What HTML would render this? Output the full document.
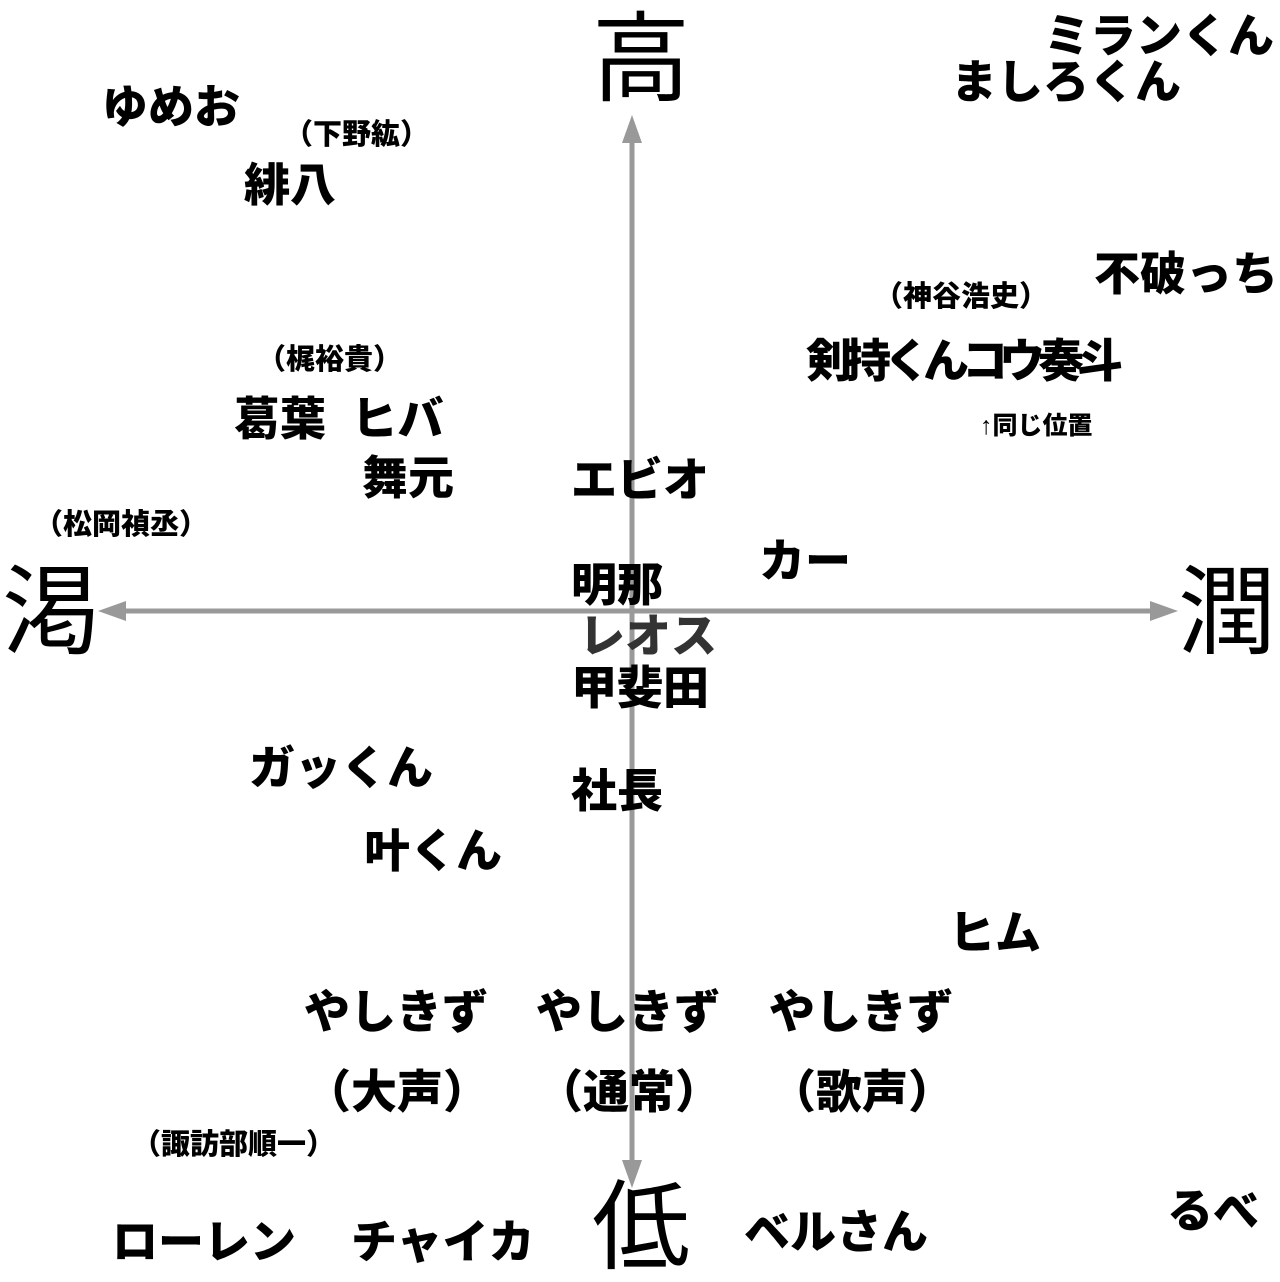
<!DOCTYPE html>
<html><head><meta charset="utf-8"><style>
html,body{margin:0;padding:0;background:#fff;}
body{width:1280px;height:1280px;position:relative;overflow:hidden;font-family:"Liberation Sans","Noto Sans CJK JP",sans-serif;}
.t{position:absolute;font-weight:900;line-height:1;white-space:nowrap;color:#000;font-size:46px;}
.s{font-size:29px;}
.ax{position:absolute;font-weight:400;font-size:98px;line-height:1;color:#000;}
</style></head><body>
<svg width="1280" height="1280" style="position:absolute;left:0;top:0">
<g stroke="#999" stroke-width="5" fill="#999">
<line x1="632" y1="130" x2="632" y2="1175"/>
<line x1="110" y1="611" x2="1165" y2="611"/>
</g>
<g fill="#999">
<polygon points="632,115 622,143 642,143"/>
<polygon points="632,1188 622,1160 642,1160"/>
<polygon points="98,611 126,601 126,621"/>
<polygon points="1178,611 1150,601 1150,621"/>
</g>
</svg>
<div class="ax" style="left:592px;top:10px">高</div>
<div class="ax" style="left:2px;top:563px">渇</div>
<div class="ax" style="left:1178px;top:563px">潤</div>
<div class="ax" style="left:592px;top:1178px">低</div>

<div class="t" style="left:102px;top:84px">ゆめお</div>
<div class="t s" style="left:284px;top:121px">（下野紘）</div>
<div class="t" style="left:244px;top:162px">緋八</div>
<div class="t" style="left:1044px;top:13px">ミランくん</div>
<div class="t" style="left:951px;top:59px">ましろくん</div>
<div class="t" style="left:1094px;top:251px">不破っち</div>
<div class="t s" style="left:874px;top:283px">（神谷浩史）</div>
<div class="t" style="left:806px;top:338px;letter-spacing:-7px">剣持くんコウ奏斗</div>
<div class="t" style="left:980px;top:414px;font-size:25px">↑同じ位置</div>
<div class="t s" style="left:257px;top:346px">（梶裕貴）</div>
<div class="t" style="left:234px;top:396px">葛葉&nbsp;&nbsp;ヒバ</div>
<div class="t" style="left:362px;top:455px">舞元</div>
<div class="t" style="left:571px;top:457px">エビオ</div>
<div class="t s" style="left:34px;top:511px">（松岡禎丞）</div>
<div class="t" style="left:759px;top:538px">カー</div>
<div class="t" style="left:571px;top:562px">明那</div>
<div class="t" style="left:579px;top:613px;color:#333">レオス</div>
<div class="t" style="left:571px;top:665px">甲斐田</div>
<div class="t" style="left:249px;top:745px">ガッくん</div>
<div class="t" style="left:571px;top:768px">社長</div>
<div class="t" style="left:364px;top:828px">叶くん</div>
<div class="t" style="left:949px;top:910px">ヒム</div>
<div class="t" style="left:304px;top:989px">やしきず</div>
<div class="t" style="left:536px;top:989px">やしきず</div>
<div class="t" style="left:769px;top:989px">やしきず</div>
<div class="t" style="left:305px;top:1069px">（大声）</div>
<div class="t" style="left:537px;top:1069px">（通常）</div>
<div class="t" style="left:770px;top:1069px">（歌声）</div>
<div class="t s" style="left:132px;top:1131px">（諏訪部順一）</div>
<div class="t" style="left:1167px;top:1188px">るべ</div>
<div class="t" style="left:112px;top:1219px">ローレン</div>
<div class="t" style="left:351px;top:1219px">チャイカ</div>
<div class="t" style="left:744px;top:1209px">ベルさん</div>
</body></html>
